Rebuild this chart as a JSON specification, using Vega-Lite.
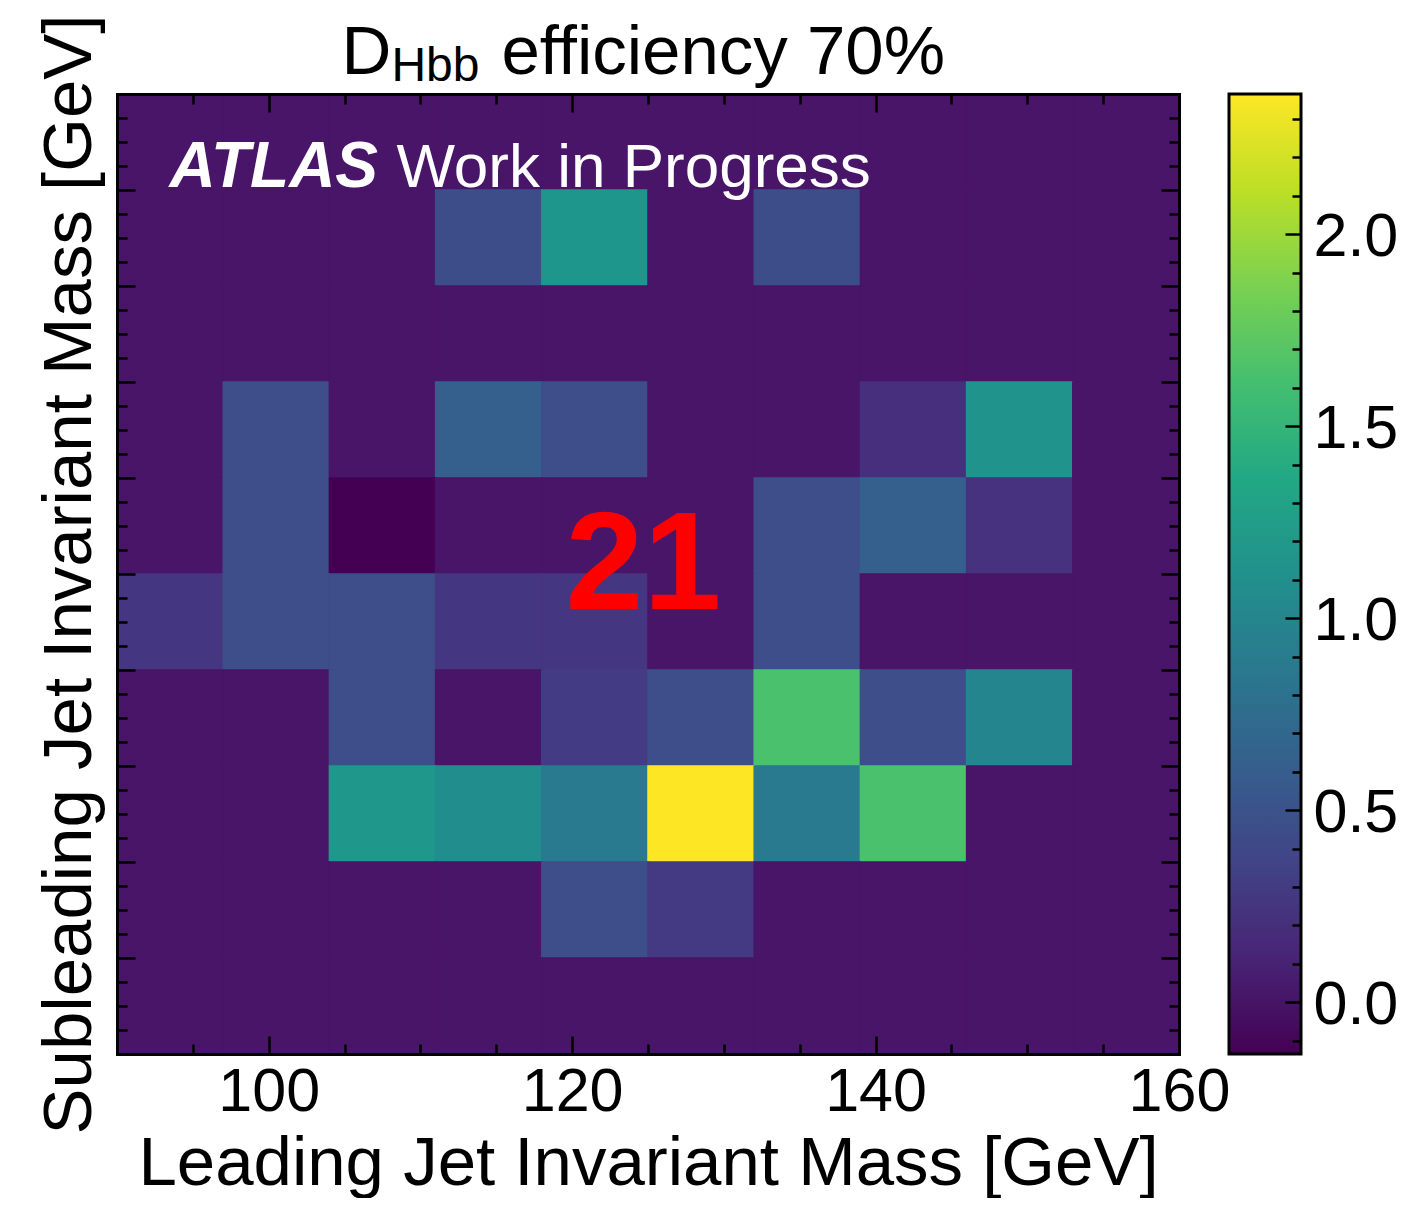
{
  "$schema": "https://vega.github.io/schema/vega-lite/v6.json",
  "padding": {"left": 34, "top": 14, "right": 0, "bottom": 0},
  "background": "white",
  "bounds": "flush",
  "config": {
    "view": {"stroke": null},
    "font": "Liberation Sans",
    "axis": {"labelFont": "Liberation Sans", "titleFont": "Liberation Sans", "labelColor": "black", "titleColor": "black", "tickColor": "black", "domainColor": "black", "grid": false, "titleFontWeight": "normal", "minExtent": 0, "tickWidth": 2.5, "domainWidth": 3, "domainCap": "square"}
  },
  "spacing": 50,
  "hconcat": [
    {
      "width": 1062,
      "height": 960,
      "layer": [
        {
          "data": {"values": [
            {"x0":90,"x1":97,"y0":153,"y1":160,"v":0},{"x0":97,"x1":104,"y0":153,"y1":160,"v":0},{"x0":104,"x1":111,"y0":153,"y1":160,"v":0},{"x0":111,"x1":118,"y0":153,"y1":160,"v":0},{"x0":118,"x1":125,"y0":153,"y1":160,"v":0},{"x0":125,"x1":132,"y0":153,"y1":160,"v":0},{"x0":132,"x1":139,"y0":153,"y1":160,"v":0},{"x0":139,"x1":146,"y0":153,"y1":160,"v":0},{"x0":146,"x1":153,"y0":153,"y1":160,"v":0},{"x0":153,"x1":160,"y0":153,"y1":160,"v":0},
            {"x0":90,"x1":97,"y0":146,"y1":153,"v":0},{"x0":97,"x1":104,"y0":146,"y1":153,"v":0},{"x0":104,"x1":111,"y0":146,"y1":153,"v":0},{"x0":111,"x1":118,"y0":146,"y1":153,"v":0.44},{"x0":118,"x1":125,"y0":146,"y1":153,"v":1.18},{"x0":125,"x1":132,"y0":146,"y1":153,"v":0},{"x0":132,"x1":139,"y0":146,"y1":153,"v":0.44},{"x0":139,"x1":146,"y0":146,"y1":153,"v":0},{"x0":146,"x1":153,"y0":146,"y1":153,"v":0},{"x0":153,"x1":160,"y0":146,"y1":153,"v":0},
            {"x0":90,"x1":97,"y0":139,"y1":146,"v":0},{"x0":97,"x1":104,"y0":139,"y1":146,"v":0},{"x0":104,"x1":111,"y0":139,"y1":146,"v":0},{"x0":111,"x1":118,"y0":139,"y1":146,"v":0},{"x0":118,"x1":125,"y0":139,"y1":146,"v":0},{"x0":125,"x1":132,"y0":139,"y1":146,"v":0},{"x0":132,"x1":139,"y0":139,"y1":146,"v":0},{"x0":139,"x1":146,"y0":139,"y1":146,"v":0},{"x0":146,"x1":153,"y0":139,"y1":146,"v":0},{"x0":153,"x1":160,"y0":139,"y1":146,"v":0},
            {"x0":90,"x1":97,"y0":132,"y1":139,"v":0},{"x0":97,"x1":104,"y0":132,"y1":139,"v":0.45},{"x0":104,"x1":111,"y0":132,"y1":139,"v":0},{"x0":111,"x1":118,"y0":132,"y1":139,"v":0.62},{"x0":118,"x1":125,"y0":132,"y1":139,"v":0.45},{"x0":125,"x1":132,"y0":132,"y1":139,"v":0},{"x0":132,"x1":139,"y0":132,"y1":139,"v":0},{"x0":139,"x1":146,"y0":132,"y1":139,"v":0.2},{"x0":146,"x1":153,"y0":132,"y1":139,"v":1.15},{"x0":153,"x1":160,"y0":132,"y1":139,"v":0},
            {"x0":90,"x1":97,"y0":125,"y1":132,"v":0},{"x0":97,"x1":104,"y0":125,"y1":132,"v":0.45},{"x0":104,"x1":111,"y0":125,"y1":132,"v":-0.135},{"x0":111,"x1":118,"y0":125,"y1":132,"v":0},{"x0":118,"x1":125,"y0":125,"y1":132,"v":0},{"x0":125,"x1":132,"y0":125,"y1":132,"v":0},{"x0":132,"x1":139,"y0":125,"y1":132,"v":0.45},{"x0":139,"x1":146,"y0":125,"y1":132,"v":0.62},{"x0":146,"x1":153,"y0":125,"y1":132,"v":0.22},{"x0":153,"x1":160,"y0":125,"y1":132,"v":0},
            {"x0":90,"x1":97,"y0":118,"y1":125,"v":0.25},{"x0":97,"x1":104,"y0":118,"y1":125,"v":0.45},{"x0":104,"x1":111,"y0":118,"y1":125,"v":0.45},{"x0":111,"x1":118,"y0":118,"y1":125,"v":0.25},{"x0":118,"x1":125,"y0":118,"y1":125,"v":0.25},{"x0":125,"x1":132,"y0":118,"y1":125,"v":0},{"x0":132,"x1":139,"y0":118,"y1":125,"v":0.45},{"x0":139,"x1":146,"y0":118,"y1":125,"v":0},{"x0":146,"x1":153,"y0":118,"y1":125,"v":0},{"x0":153,"x1":160,"y0":118,"y1":125,"v":0},
            {"x0":90,"x1":97,"y0":111,"y1":118,"v":0},{"x0":97,"x1":104,"y0":111,"y1":118,"v":0},{"x0":104,"x1":111,"y0":111,"y1":118,"v":0.45},{"x0":111,"x1":118,"y0":111,"y1":118,"v":0},{"x0":118,"x1":125,"y0":111,"y1":118,"v":0.3},{"x0":125,"x1":132,"y0":111,"y1":118,"v":0.45},{"x0":132,"x1":139,"y0":111,"y1":118,"v":1.65},{"x0":139,"x1":146,"y0":111,"y1":118,"v":0.45},{"x0":146,"x1":153,"y0":111,"y1":118,"v":1.0},{"x0":153,"x1":160,"y0":111,"y1":118,"v":0},
            {"x0":90,"x1":97,"y0":104,"y1":111,"v":0},{"x0":97,"x1":104,"y0":104,"y1":111,"v":0},{"x0":104,"x1":111,"y0":104,"y1":111,"v":1.2},{"x0":111,"x1":118,"y0":104,"y1":111,"v":1.08},{"x0":118,"x1":125,"y0":104,"y1":111,"v":0.88},{"x0":125,"x1":132,"y0":104,"y1":111,"v":2.365},{"x0":132,"x1":139,"y0":104,"y1":111,"v":0.88},{"x0":139,"x1":146,"y0":104,"y1":111,"v":1.65},{"x0":146,"x1":153,"y0":104,"y1":111,"v":0},{"x0":153,"x1":160,"y0":104,"y1":111,"v":0},
            {"x0":90,"x1":97,"y0":97,"y1":104,"v":0},{"x0":97,"x1":104,"y0":97,"y1":104,"v":0},{"x0":104,"x1":111,"y0":97,"y1":104,"v":0},{"x0":111,"x1":118,"y0":97,"y1":104,"v":0},{"x0":118,"x1":125,"y0":97,"y1":104,"v":0.45},{"x0":125,"x1":132,"y0":97,"y1":104,"v":0.28},{"x0":132,"x1":139,"y0":97,"y1":104,"v":0},{"x0":139,"x1":146,"y0":97,"y1":104,"v":0},{"x0":146,"x1":153,"y0":97,"y1":104,"v":0},{"x0":153,"x1":160,"y0":97,"y1":104,"v":0},
            {"x0":90,"x1":97,"y0":90,"y1":97,"v":0},{"x0":97,"x1":104,"y0":90,"y1":97,"v":0},{"x0":104,"x1":111,"y0":90,"y1":97,"v":0},{"x0":111,"x1":118,"y0":90,"y1":97,"v":0},{"x0":118,"x1":125,"y0":90,"y1":97,"v":0},{"x0":125,"x1":132,"y0":90,"y1":97,"v":0},{"x0":132,"x1":139,"y0":90,"y1":97,"v":0},{"x0":139,"x1":146,"y0":90,"y1":97,"v":0},{"x0":146,"x1":153,"y0":90,"y1":97,"v":0},{"x0":153,"x1":160,"y0":90,"y1":97,"v":0}
          ]},
          "mark": {"type": "rect", "strokeWidth": 1.5},
          "encoding": {
            "x": {"field": "x0", "type": "quantitative",
              "scale": {"domain": [90, 160], "nice": false, "zero": false},
              "axis": {"orient": "bottom", "zindex": 1, "values": [100, 120, 140, 160],
                "title": "Leading Jet Invariant Mass [GeV]", "titleFontSize": 69, "titlePadding": 7,
                "labelFontSize": 61, "labelPadding": 8, "labelFlush": false, "labelOverlap": false, "labelBound": false,
                "ticks": false, "tickSize": 0}},
            "x2": {"field": "x1"},
            "y": {"field": "y0", "type": "quantitative",
              "scale": {"domain": [90, 160], "nice": false, "zero": false},
              "axis": {"orient": "left", "zindex": 1, "labels": false, "ticks": false, "tickSize": 0,
                "title": "Subleading Jet Invariant Mass [GeV]", "titleFontSize": 69, "titlePadding": 13}},
            "y2": {"field": "y1"},
            "fill": {"field": "v", "type": "quantitative", "scale": {"scheme": "viridis", "domain": [-0.135, 2.365]}, "legend": null},
            "stroke": {"field": "v", "type": "quantitative", "scale": {"scheme": "viridis", "domain": [-0.135, 2.365]}, "legend": null}
          }
        },
        {
          "data": {"values": [{"label": "21"}]},
          "mark": {"type": "text", "fontSize": 140, "fontWeight": "bold", "color": "#ff0000", "align": "center", "baseline": "alphabetic", "font": "Liberation Sans"},
          "encoding": {
            "text": {"field": "label"},
            "x": {"datum": 124.7, "type": "quantitative",
              "scale": {"domain": [90, 160], "nice": false, "zero": false},
              "axis": {"orient": "bottom", "zindex": 1, "values": [100, 120, 140, 160], "labels": false, "domain": false, "title": null, "tickSize": 18, "offset": -18}},
            "y": {"datum": 122.43, "type": "quantitative",
              "scale": {"domain": [90, 160], "nice": false, "zero": false},
              "axis": {"orient": "left", "zindex": 1, "values": [97, 104, 111, 118, 125, 132, 139, 146, 153], "labels": false, "domain": false, "title": null, "tickSize": 18, "offset": -18}}
          }
        },
        {
          "data": {"values": [{"label": "ATLAS"}]},
          "mark": {"type": "text", "fontSize": 64, "fontWeight": "bold", "fontStyle": "italic", "color": "white", "align": "left", "baseline": "alphabetic", "font": "Liberation Sans"},
          "encoding": {
            "text": {"field": "label"},
            "x": {"datum": 93.46, "type": "quantitative", "scale": {"domain": [90, 160], "nice": false, "zero": false},
              "axis": {"orient": "bottom", "zindex": 1, "values": [95, 105, 110, 115, 125, 130, 135, 145, 150, 155], "labels": false, "domain": false, "title": null, "tickSize": 10, "offset": -10}},
            "y": {"datum": 153.2, "type": "quantitative", "scale": {"domain": [90, 160], "nice": false, "zero": false},
              "axis": {"orient": "left", "zindex": 1, "values": [91.75,93.5,95.25,98.75,100.5,102.25,105.75,107.5,109.25,112.75,114.5,116.25,119.75,121.5,123.25,126.75,128.5,130.25,133.75,135.5,137.25,140.75,142.5,144.25,147.75,149.5,151.25,154.75,156.5,158.25], "labels": false, "domain": false, "title": null, "tickSize": 10, "offset": -10}}
          }
        },
        {
          "data": {"values": [{"label": "Work in Progress"}]},
          "mark": {"type": "text", "fontSize": 62, "color": "white", "align": "left", "baseline": "alphabetic", "font": "Liberation Sans"},
          "encoding": {
            "text": {"field": "label"},
            "x": {"datum": 108.42, "type": "quantitative", "scale": {"domain": [90, 160], "nice": false, "zero": false},
              "axis": {"orient": "top", "zindex": 1, "values": [100, 120, 140, 160], "labels": false, "domain": false, "title": null, "tickSize": 18, "offset": -18}},
            "y": {"datum": 153.2, "type": "quantitative", "scale": {"domain": [90, 160], "nice": false, "zero": false},
              "axis": {"orient": "right", "zindex": 1, "values": [97, 104, 111, 118, 125, 132, 139, 146, 153], "labels": false, "domain": false, "title": null, "tickSize": 18, "offset": -18}}
          }
        },
        {
          "data": {"values": [{"label": "D"}]},
          "mark": {"type": "text", "fontSize": 69, "color": "black", "align": "left", "baseline": "alphabetic", "font": "Liberation Sans"},
          "encoding": {
            "text": {"field": "label"},
            "x": {"datum": 104.8, "type": "quantitative", "scale": {"domain": [90, 160], "nice": false, "zero": false},
              "axis": {"orient": "top", "zindex": 1, "values": [95, 105, 110, 115, 125, 130, 135, 145, 150, 155], "labels": false, "domain": false, "title": null, "tickSize": 10, "offset": -10}},
            "y": {"datum": 161.44, "type": "quantitative", "scale": {"domain": [90, 160], "nice": false, "zero": false},
              "axis": {"orient": "right", "zindex": 1, "values": [91.75,93.5,95.25,98.75,100.5,102.25,105.75,107.5,109.25,112.75,114.5,116.25,119.75,121.5,123.25,126.75,128.5,130.25,133.75,135.5,137.25,140.75,142.5,144.25,147.75,149.5,151.25,154.75,156.5,158.25], "labels": false, "domain": false, "title": null, "tickSize": 10, "offset": -10}}
          }
        },
        {
          "data": {"values": [{"label": "Hbb"}]},
          "mark": {"type": "text", "fontSize": 48, "color": "black", "align": "left", "baseline": "alphabetic", "font": "Liberation Sans"},
          "encoding": {
            "text": {"field": "label"},
            "x": {"datum": 108.09, "type": "quantitative", "scale": {"domain": [90, 160], "nice": false, "zero": false},
              "axis": {"orient": "top", "zindex": 1, "values": [160], "labels": false, "ticks": false, "tickSize": 0, "title": null}},
            "y": {"datum": 160.93, "type": "quantitative", "scale": {"domain": [90, 160], "nice": false, "zero": false},
              "axis": {"orient": "right", "zindex": 1, "values": [160], "labels": false, "ticks": false, "tickSize": 0, "title": null}}
          }
        },
        {
          "data": {"values": [{"label": "efficiency 70%"}]},
          "mark": {"type": "text", "fontSize": 69, "color": "black", "align": "left", "baseline": "alphabetic", "font": "Liberation Sans"},
          "encoding": {
            "text": {"field": "label"},
            "x": {"datum": 115.34, "type": "quantitative", "scale": {"domain": [90, 160], "nice": false, "zero": false}, "axis": null},
            "y": {"datum": 161.44, "type": "quantitative", "scale": {"domain": [90, 160], "nice": false, "zero": false}, "axis": null}
          }
        }
      ],
      "resolve": {"scale": {"x": "independent", "y": "independent"}}
    },
    {
      "width": 72,
      "height": 960,
      "data": {"values": [{"lo": -0.135, "hi": 2.365}]},
      "layer": [
        {
          "mark": {"type": "rect", "stroke": "black", "strokeWidth": 3,
            "fill": {"gradient": "linear", "x1": 0, "y1": 1, "x2": 0, "y2": 0,
              "stops": [
                {"offset": 0, "color": "#440154"},
                {"offset": 0.1, "color": "#482475"},
                {"offset": 0.2, "color": "#414487"},
                {"offset": 0.3, "color": "#355f8d"},
                {"offset": 0.4, "color": "#2a788e"},
                {"offset": 0.5, "color": "#21918c"},
                {"offset": 0.6, "color": "#22a884"},
                {"offset": 0.7, "color": "#44bf70"},
                {"offset": 0.8, "color": "#7ad151"},
                {"offset": 0.9, "color": "#bddf26"},
                {"offset": 1, "color": "#fde725"}
              ]}},
          "encoding": {
            "x": {"datum": 0, "type": "quantitative", "scale": {"domain": [0, 1], "nice": false, "zero": false}, "axis": null},
            "x2": {"datum": 1},
            "y": {"field": "lo", "type": "quantitative",
              "scale": {"domain": [-0.135, 2.365], "nice": false, "zero": false},
              "axis": {"orient": "right", "zindex": 1, "title": null, "domain": false, "format": ".1f", "values": [0, 0.5, 1, 1.5, 2],
                "labelFontSize": 61, "labelPadding": 12, "labelOffset": 3.5, "labelOverlap": false, "labelBound": false,
                "ticks": false, "tickSize": 0}},
            "y2": {"field": "hi"}
          }
        },
        {
          "mark": {"type": "rect", "opacity": 0},
          "encoding": {
            "x": {"datum": 0, "type": "quantitative", "scale": {"domain": [0, 1], "nice": false, "zero": false}, "axis": null},
            "x2": {"datum": 1},
            "y": {"field": "lo", "type": "quantitative",
              "scale": {"domain": [-0.135, 2.365], "nice": false, "zero": false},
              "axis": {"orient": "right", "zindex": 1, "title": null, "domain": false, "labels": false, "values": [0, 0.5, 1, 1.5, 2], "tickSize": 16, "offset": -16}},
            "y2": {"field": "hi"}
          }
        },
        {
          "mark": {"type": "rect", "opacity": 0},
          "encoding": {
            "x": {"datum": 0, "type": "quantitative", "scale": {"domain": [0, 1], "nice": false, "zero": false}, "axis": null},
            "x2": {"datum": 1},
            "y": {"field": "lo", "type": "quantitative",
              "scale": {"domain": [-0.135, 2.365], "nice": false, "zero": false},
              "axis": {"orient": "right", "zindex": 1, "title": null, "domain": false, "labels": false,
                "values": [-0.1,0.1,0.2,0.3,0.4,0.6,0.7,0.8,0.9,1.1,1.2,1.3,1.4,1.6,1.7,1.8,1.9,2.1,2.2,2.3], "tickSize": 9, "offset": -9}},
            "y2": {"field": "hi"}
          }
        }
      ],
      "resolve": {"scale": {"y": "independent"}}
    }
  ]
}
